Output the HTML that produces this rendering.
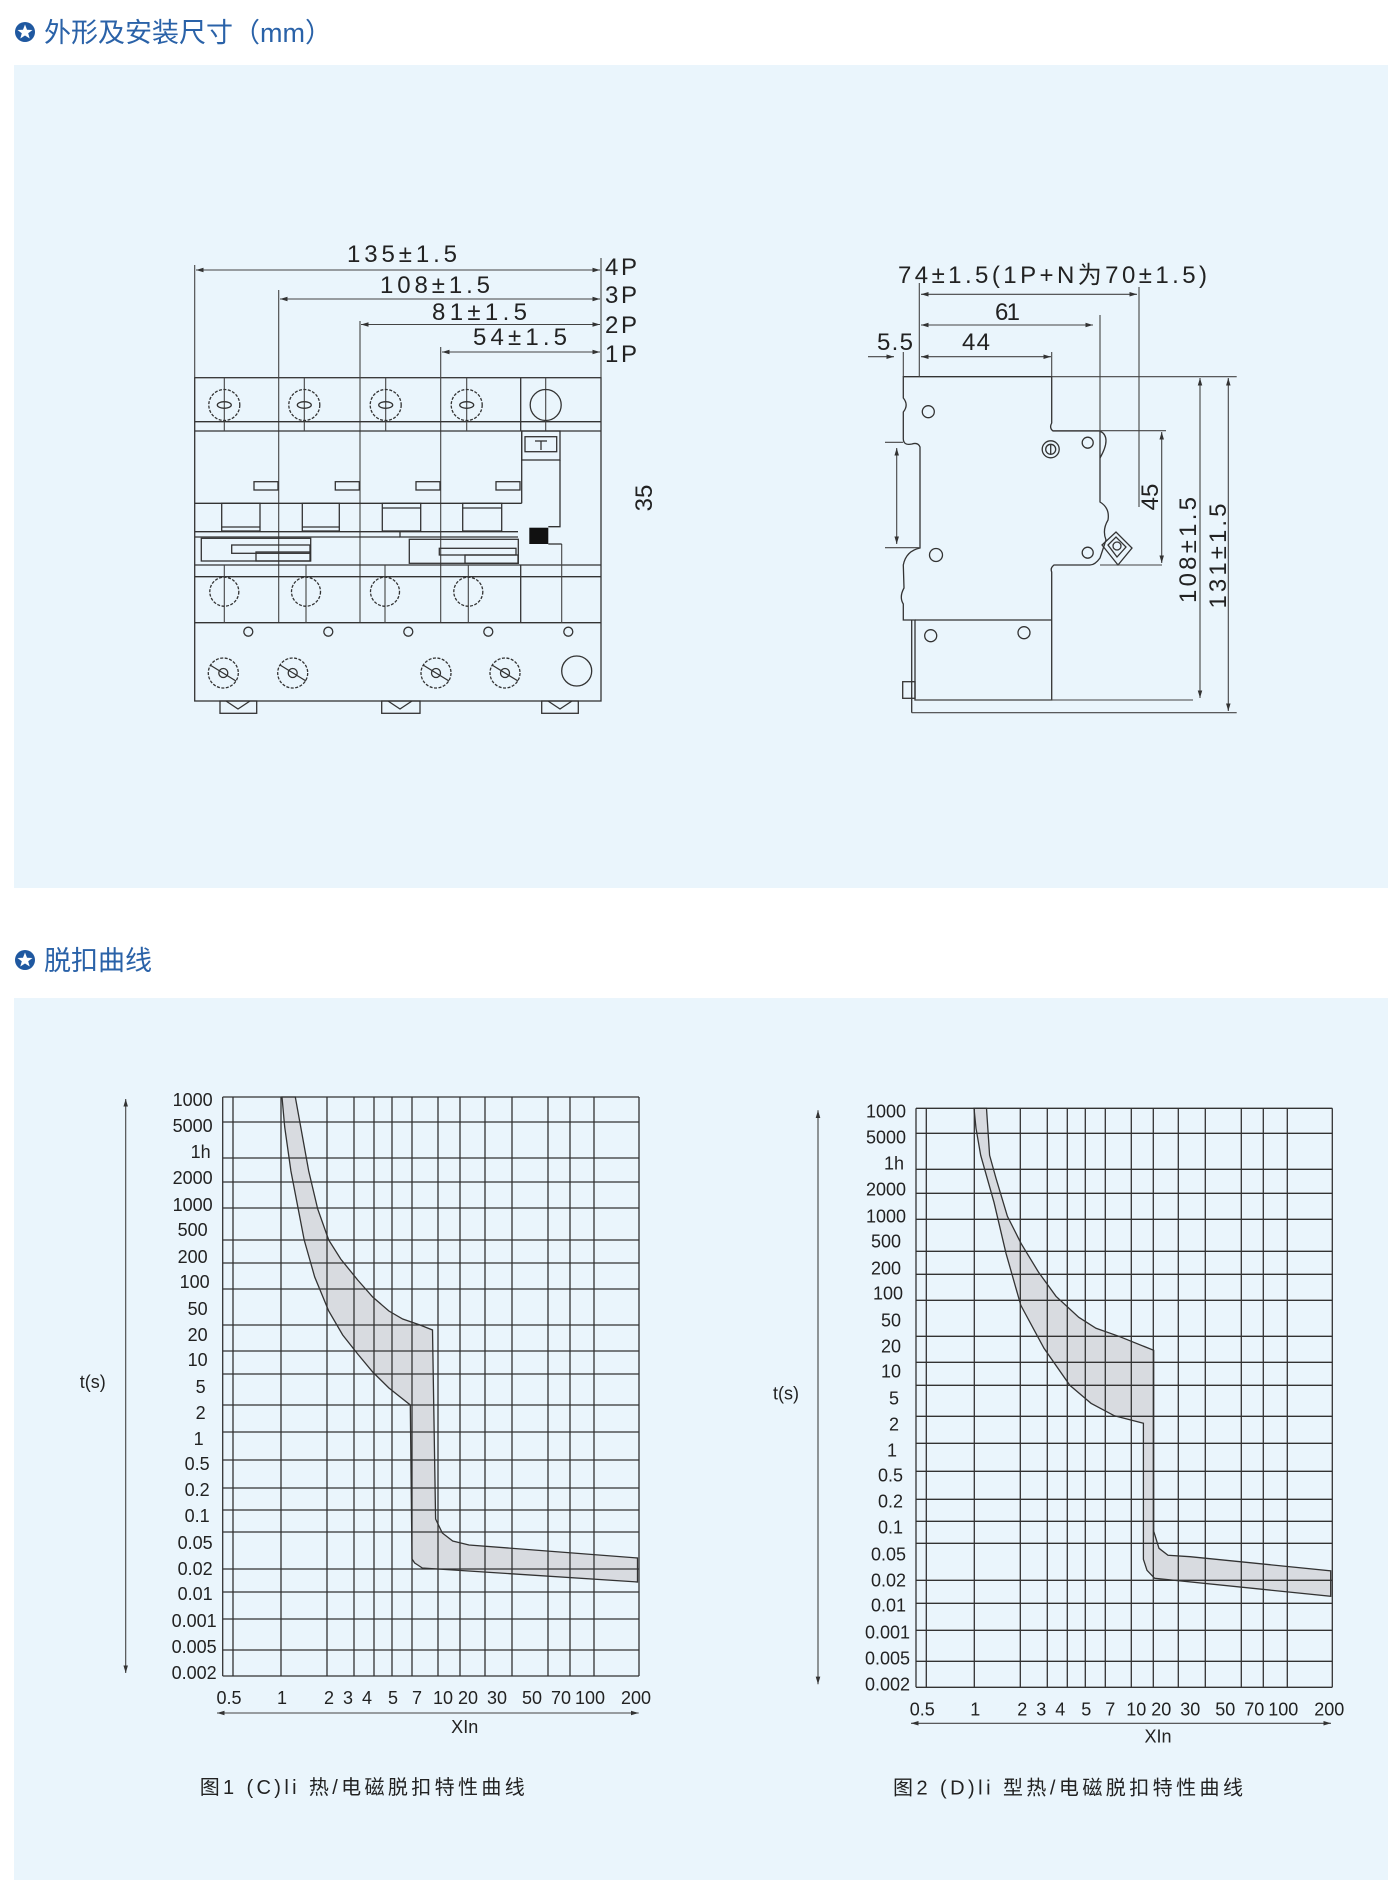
<!DOCTYPE html>
<html><head><meta charset="utf-8">
<style>
html,body{margin:0;padding:0;background:#fff;}
svg{display:block;}
text{font-family:"Liberation Sans","Noto Sans CJK SC",sans-serif;fill:#222;}
.t{font-family:"Liberation Sans","Noto Sans CJK SC",sans-serif;fill:#2a62a8;font-size:27px;}
.ln{stroke:#333;stroke-width:1.3;fill:none;}
.lt{stroke:#444;stroke-width:1.1;fill:none;}
.dim{font-size:24px;}
.yl{font-size:18px;text-anchor:end;}
.xl{font-size:18px;text-anchor:middle;}
</style></head>
<body>
<svg width="1400" height="1893" viewBox="0 0 1400 1893" xmlns="http://www.w3.org/2000/svg">
<defs>
<marker id="ar" viewBox="0 0 10 10" refX="10" refY="5" markerWidth="7" markerHeight="7" orient="auto-start-reverse"><path d="M0,2 L10,5 L0,8 z" fill="#333"/></marker>
</defs>
<!-- Section 1 -->
<circle cx="25" cy="32" r="10" fill="#1f58a0"/>
<polygon points="25,24.5 27,29.8 32.5,30 28.2,33.3 29.7,38.5 25,35.5 20.3,38.5 21.8,33.3 17.5,30 23,29.8" fill="#fff"/>
<text class="t" x="44" y="42">外形及安装尺寸（mm）</text>
<rect x="14" y="65" width="1374" height="823" fill="#eaf5fc"/>

<!-- Front view -->
<g>
<rect x="194.7" y="377.7" width="406.3" height="323.3" fill="#efefef" class="ln"/>
<!-- dims -->
<line class="lt" x1="194.7" y1="265" x2="194.7" y2="377.7"/>
<line class="lt" x1="601" y1="258" x2="601" y2="377.7"/>
<line class="lt" x1="196" y1="270" x2="600" y2="270" marker-start="url(#ar)" marker-end="url(#ar)"/>
<line class="lt" x1="278.7" y1="290" x2="278.7" y2="622.7"/>
<line class="lt" x1="280" y1="299" x2="600" y2="299" marker-start="url(#ar)" marker-end="url(#ar)"/>
<line class="lt" x1="360" y1="321" x2="360" y2="622.7"/>
<line class="lt" x1="361" y1="324.5" x2="600" y2="324.5" marker-start="url(#ar)" marker-end="url(#ar)"/>
<line class="lt" x1="440.7" y1="347" x2="440.7" y2="622.7"/>
<line class="lt" x1="442" y1="352" x2="600" y2="352" marker-start="url(#ar)" marker-end="url(#ar)"/>
<text class="dim" x="347" y="262" textLength="110">135±1.5</text>
<text class="dim" x="380" y="293" textLength="110">108±1.5</text>
<text class="dim" x="432" y="320" textLength="95">81±1.5</text>
<text class="dim" x="473" y="345" textLength="94">54±1.5</text>
<text class="dim" x="605" y="275" textLength="32">4P</text>
<text class="dim" x="605" y="303" textLength="32">3P</text>
<text class="dim" x="605" y="333" textLength="32">2P</text>
<text class="dim" x="605" y="362" textLength="32">1P</text>
<text class="dim" transform="translate(652,498) rotate(-90)" text-anchor="middle" font-size="24">35</text>
<!-- horizontal bands -->
<line class="ln" x1="194.7" y1="421.7" x2="601" y2="421.7"/>
<line class="ln" x1="194.7" y1="431" x2="601" y2="431"/>
<line class="ln" x1="194.7" y1="503.3" x2="521.7" y2="503.3"/>
<line class="ln" x1="194.7" y1="531.7" x2="518" y2="531.7"/>
<line class="ln" x1="194.7" y1="565" x2="601" y2="565"/>
<line class="ln" x1="194.7" y1="576.7" x2="601" y2="576.7"/>
<line class="ln" x1="194.7" y1="622.7" x2="601" y2="622.7"/>
<line class="ln" x1="520.7" y1="377.7" x2="520.7" y2="431"/>
<line class="ln" x1="521.7" y1="431" x2="521.7" y2="503.3"/>
<line class="ln" x1="520.7" y1="565" x2="520.7" y2="622.7"/>
<!-- terminal center lines top -->
<g class="lt">
<line x1="224.3" y1="377.7" x2="224.3" y2="431"/><line x1="304.3" y1="377.7" x2="304.3" y2="431"/>
<line x1="385.7" y1="377.7" x2="385.7" y2="431"/><line x1="466.7" y1="377.7" x2="466.7" y2="431"/>
<line x1="545.7" y1="377.7" x2="545.7" y2="431"/>
<line x1="224.3" y1="565" x2="224.3" y2="622.7"/><line x1="306" y1="565" x2="306" y2="622.7"/>
<line x1="385" y1="565" x2="385" y2="622.7"/><line x1="468.3" y1="565" x2="468.3" y2="622.7"/>
<line x1="561.7" y1="544" x2="561.7" y2="622.7"/>
</g>
<g class="ln" fill="none">
<circle cx="224.3" cy="405" r="15.5" stroke-dasharray="3 1.5"/><circle cx="304.3" cy="405" r="15.5" stroke-dasharray="3 1.5"/>
<circle cx="385.7" cy="405" r="15.5" stroke-dasharray="3 1.5"/><circle cx="466.7" cy="405" r="15.5" stroke-dasharray="3 1.5"/>
<circle cx="545.7" cy="405" r="15.5"/>
<ellipse cx="224.3" cy="405" rx="7" ry="3.3"/><ellipse cx="304.3" cy="405" rx="7" ry="3.3"/>
<ellipse cx="385.7" cy="405" rx="7" ry="3.3"/><ellipse cx="466.7" cy="405" rx="7" ry="3.3"/>
<circle cx="224.3" cy="591.7" r="14.5" stroke-dasharray="3 1.5"/><circle cx="306" cy="591.7" r="14.5" stroke-dasharray="3 1.5"/>
<circle cx="385" cy="591.7" r="14.5" stroke-dasharray="3 1.5"/><circle cx="468.3" cy="591.7" r="14.5" stroke-dasharray="3 1.5"/>
<circle cx="248.3" cy="631.7" r="4.5"/><circle cx="328.3" cy="631.7" r="4.5"/><circle cx="408.3" cy="631.7" r="4.5"/>
<circle cx="488.3" cy="631.7" r="4.5"/><circle cx="568.3" cy="631.7" r="4.5"/>
<circle cx="223.3" cy="673" r="15" stroke-dasharray="3 1.5"/><circle cx="292.7" cy="673" r="15" stroke-dasharray="3 1.5"/>
<circle cx="436" cy="673" r="15" stroke-dasharray="3 1.5"/><circle cx="505" cy="673" r="15" stroke-dasharray="3 1.5"/>
<circle cx="576.7" cy="671" r="15"/>
<circle cx="223.3" cy="673" r="4.5"/><circle cx="292.7" cy="673" r="4.5"/><circle cx="436" cy="673" r="4.5"/><circle cx="505" cy="673" r="4.5"/>
<line x1="210" y1="665" x2="236" y2="681"/><line x1="280" y1="665" x2="306" y2="681"/><line x1="423" y1="665" x2="449" y2="681"/><line x1="492" y1="665" x2="518" y2="681"/>
</g>
<!-- handles -->
<g class="ln" fill="#efefef">
<rect x="254" y="481.7" width="24" height="8.3"/><rect x="335.3" y="481.7" width="24" height="8.3"/>
<rect x="416" y="481.7" width="24" height="8.3"/><rect x="496" y="481.7" width="24" height="8.3"/>
<rect x="221.7" y="503.3" width="38.3" height="27.7"/><rect x="302.3" y="503.3" width="37" height="27.7"/>
<rect x="382.3" y="503.3" width="38.4" height="27.7"/><rect x="462.7" y="503.3" width="39" height="27.7"/>
<line x1="221.7" y1="527" x2="260" y2="527"/><line x1="302.3" y1="527" x2="339.3" y2="527"/>
<line x1="382.3" y1="508" x2="420.7" y2="508"/><line x1="462.7" y1="508" x2="501.7" y2="508"/>
<rect x="521.7" y="431" width="38.3" height="29"/><rect x="525" y="436.7" width="31.7" height="15"/>
<line x1="535" y1="441" x2="547" y2="441"/><line x1="541" y1="441" x2="541" y2="450"/>
<polyline points="560,460 560,526.7 548.3,526.7" fill="none"/>
<polyline points="548.3,544 561.7,544" fill="none"/>
<rect x="201.3" y="538.3" width="109.4" height="22.7"/>
<rect x="231.7" y="545" width="78.3" height="8.3"/>
<rect x="256" y="552" width="54" height="9"/>
<line x1="194.7" y1="537" x2="400" y2="537"/>
<polyline points="400,531.7 400,537 518,537" fill="none"/>
<rect x="409.3" y="539.3" width="109" height="24"/>
<rect x="439.3" y="548.3" width="76.7" height="6.7"/>
<rect x="465" y="555" width="53" height="8.3"/>
</g>
<rect x="529.3" y="527.7" width="19" height="16.3" fill="#111"/>
<!-- feet -->
<g class="ln" fill="#efefef">
<rect x="220" y="701" width="36.7" height="12.3"/><rect x="381.7" y="701" width="38.3" height="12.3"/><rect x="541.7" y="701" width="36.6" height="12.3"/>
<polyline points="226,701 238,709 250,701" fill="none"/><polyline points="388,701 400,709 412,701" fill="none"/><polyline points="548,701 560,709 572,701" fill="none"/>
</g>
</g>

<!-- Side view -->
<g>
<path class="ln" fill="#efefef" d="M903.3,376.7 L1051.7,376.7 L1051.7,423 Q1049,428 1053,431 L1100,431 L1100,502 Q1110,508 1108,520 Q1102,530 1106,540 L1100,558 Q1095,565 1090,565 L1054,565 Q1050,568 1051.7,572 L1051.7,700 L915,700 L915,620 L903.3,620 L903.3,604 Q899,597 904,588 L903.3,565 Q906,551 920,548 L920,447 Q918,442 912,444 Q903,446 903.3,438 L903.3,412 Q909,405 903.3,398 Z"/>
<line class="ln" x1="915" y1="620" x2="1052" y2="620"/>
<line class="ln" x1="911.7" y1="620" x2="911.7" y2="712.7"/>
<rect class="ln" x="902.7" y="681.7" width="12.3" height="16.6" fill="#efefef"/>
<line class="lt" x1="1051.7" y1="376.7" x2="1236.7" y2="376.7"/>
<line class="lt" x1="915" y1="700" x2="1193" y2="700"/>
<line class="lt" x1="911.7" y1="712.7" x2="1236.7" y2="712.7"/>
<g class="ln" fill="none">
<circle cx="928.3" cy="411.7" r="6"/><circle cx="936" cy="555" r="6.5"/><circle cx="1087.7" cy="442.7" r="5.5"/>
<circle cx="1087.7" cy="552.7" r="5.5"/><circle cx="1050.7" cy="449.3" r="8.5"/><circle cx="1050.7" cy="449.3" r="5"/>
<line x1="1050.7" y1="445" x2="1050.7" y2="454"/>
<circle cx="930.7" cy="635.7" r="6"/><circle cx="1024" cy="632.7" r="6"/>
<path d="M1100,431 Q1112,437 1100,458"/>
<path d="M1102,545 L1116,532 L1132,548 L1118,565 Z"/><path d="M1108,545 L1116,537 L1126,547 L1117,557 Z"/><circle cx="1117" cy="546" r="4"/>
</g>
<!-- side dims -->
<g class="lt">
<line x1="919.3" y1="283" x2="919.3" y2="376.7"/>
<line x1="1139" y1="287" x2="1139" y2="507"/>
<line x1="921" y1="294.3" x2="1137" y2="294.3" marker-start="url(#ar)" marker-end="url(#ar)"/>
<line x1="1100" y1="315" x2="1100" y2="431"/>
<line x1="921" y1="325" x2="1093" y2="325" marker-start="url(#ar)" marker-end="url(#ar)"/>
<line x1="1051.7" y1="352" x2="1051.7" y2="376.7"/>
<line x1="921" y1="356.7" x2="1051" y2="356.7" marker-start="url(#ar)" marker-end="url(#ar)"/>
<line x1="903.3" y1="352" x2="903.3" y2="376.7"/>
<line x1="868" y1="356.7" x2="894" y2="356.7" marker-end="url(#ar)"/>
<line x1="885" y1="442.3" x2="903" y2="442.3"/><line x1="885" y1="547.7" x2="920" y2="547.7"/>
<line x1="896.7" y1="448" x2="896.7" y2="544" marker-start="url(#ar)" marker-end="url(#ar)"/>
<line x1="1053" y1="430.7" x2="1166" y2="430.7"/><line x1="1100" y1="565" x2="1162" y2="565"/>
<line x1="1161.7" y1="432" x2="1161.7" y2="563" marker-start="url(#ar)" marker-end="url(#ar)"/>
<line x1="1200" y1="378" x2="1200" y2="698" marker-start="url(#ar)" marker-end="url(#ar)"/>
<line x1="1228.3" y1="378" x2="1228.3" y2="711" marker-start="url(#ar)" marker-end="url(#ar)"/>
</g>
<text class="dim" x="898" y="283" textLength="309">74±1.5(1P+N为70±1.5)</text>
<text class="dim" x="995" y="320" textLength="25">61</text>
<text class="dim" x="962" y="350" textLength="28">44</text>
<text class="dim" x="877" y="350" textLength="36">5.5</text>
<text class="dim" transform="translate(1158,497) rotate(-90)" text-anchor="middle">45</text>
<text class="dim" transform="translate(1196,550) rotate(-90)" text-anchor="middle" textLength="106">108±1.5</text>
<text class="dim" transform="translate(1226,556) rotate(-90)" text-anchor="middle" textLength="105">131±1.5</text>
</g>

<!-- Section 2 -->
<circle cx="25" cy="960" r="10" fill="#1f58a0"/>
<polygon points="25,952.5 27,957.8 32.5,958 28.2,961.3 29.7,966.5 25,963.5 20.3,966.5 21.8,961.3 17.5,958 23,957.8" fill="#fff"/>
<text class="t" x="44" y="970">脱扣曲线</text>
<rect x="14" y="998" width="1374" height="882" fill="#eaf5fc"/>

<!-- Chart 1 -->
<g transform="translate(222.7,1097)">
<polygon points="59.3,0 62,30 68.2,74 81.5,143 92,180 106,214 120,238 135,257 150,275 166.2,291 187.6,308 189.3,462 192,466 195.1,468 199.6,471 414.8,485 414.8,461 246.3,448 230,444 219.6,436 212.9,422 209.8,233 197.3,228 180,222 166.2,214 150,200 135,183 118,162 106,143 95,112 86,74 72.6,0" fill="#d8dbe0" stroke="#333" stroke-width="1.3"/>
<g class="ln">
<line x1="0" y1="0" x2="416.3" y2="0"/><line x1="0" y1="25" x2="416.3" y2="25"/><line x1="0" y1="61" x2="416.3" y2="61"/>
<line x1="0" y1="85" x2="416.3" y2="85"/><line x1="0" y1="111" x2="416.3" y2="111"/><line x1="0" y1="143" x2="416.3" y2="143"/>
<line x1="0" y1="166" x2="416.3" y2="166"/><line x1="0" y1="192" x2="416.3" y2="192"/><line x1="0" y1="228" x2="416.3" y2="228"/>
<line x1="0" y1="254" x2="416.3" y2="254"/><line x1="0" y1="277" x2="416.3" y2="277"/><line x1="0" y1="308" x2="416.3" y2="308"/>
<line x1="0" y1="335" x2="416.3" y2="335"/><line x1="0" y1="363" x2="416.3" y2="363"/><line x1="0" y1="391" x2="416.3" y2="391"/>
<line x1="0" y1="413" x2="416.3" y2="413"/><line x1="0" y1="435" x2="416.3" y2="435"/><line x1="0" y1="472" x2="416.3" y2="472"/>
<line x1="0" y1="495" x2="416.3" y2="495"/><line x1="0" y1="522" x2="416.3" y2="522"/><line x1="0" y1="553" x2="416.3" y2="553"/>
<line x1="0" y1="579" x2="416.3" y2="579"/>
<line x1="0" y1="0" x2="0" y2="579"/><line x1="10.3" y1="0" x2="10.3" y2="579"/><line x1="58.3" y1="0" x2="58.3" y2="579"/>
<line x1="104.3" y1="0" x2="104.3" y2="579"/><line x1="131.3" y1="0" x2="131.3" y2="579"/><line x1="151.3" y1="0" x2="151.3" y2="579"/>
<line x1="169.3" y1="0" x2="169.3" y2="579"/><line x1="189.3" y1="0" x2="189.3" y2="579"/><line x1="215.3" y1="0" x2="215.3" y2="579"/>
<line x1="237.3" y1="0" x2="237.3" y2="579"/><line x1="262.3" y1="0" x2="262.3" y2="579"/><line x1="289.3" y1="0" x2="289.3" y2="579"/>
<line x1="325.3" y1="0" x2="325.3" y2="579"/><line x1="347.3" y1="0" x2="347.3" y2="579"/><line x1="371.3" y1="0" x2="371.3" y2="579"/>
<line x1="416.3" y1="0" x2="416.3" y2="579"/>
</g>
<g class="yl">
<text x="-10" y="9">1000</text><text x="-10" y="35">5000</text><text x="-12" y="61">1h</text><text x="-10" y="87">2000</text>
<text x="-10" y="114">1000</text><text x="-15" y="139">500</text><text x="-15" y="166">200</text><text x="-13" y="191">100</text>
<text x="-15" y="218">50</text><text x="-15" y="244">20</text><text x="-15" y="269">10</text><text x="-17" y="296">5</text>
<text x="-17" y="322">2</text><text x="-19" y="348">1</text><text x="-13" y="373">0.5</text><text x="-13" y="399">0.2</text>
<text x="-13" y="425">0.1</text><text x="-10" y="452">0.05</text><text x="-10" y="478">0.02</text><text x="-10" y="503">0.01</text>
<text x="-6" y="530">0.001</text><text x="-6" y="556">0.005</text><text x="-6" y="582">0.002</text>
</g>
<g class="xl">
<text x="6.3" y="607">0.5</text><text x="59.3" y="607">1</text><text x="106.3" y="607">2</text><text x="125.3" y="607">3</text>
<text x="144.3" y="607">4</text><text x="170.3" y="607">5</text><text x="194.3" y="607">7</text><text x="220.3" y="607">10</text>
<text x="245.3" y="607">20</text><text x="274.3" y="607">30</text><text x="309.3" y="607">50</text><text x="338.3" y="607">70</text>
<text x="367.3" y="607">100</text><text x="413.3" y="607">200</text>
</g>
<text x="-130" y="291" font-size="18" text-anchor="middle">t(s)</text>
<line class="lt" x1="-97" y1="2" x2="-97" y2="576" marker-start="url(#ar)" marker-end="url(#ar)"/>
<line class="lt" x1="-5.7" y1="616" x2="416" y2="616" marker-start="url(#ar)" marker-end="url(#ar)"/>
<text x="242" y="636" font-size="18" text-anchor="middle">XIn</text>
<text x="-23" y="697" font-size="20" textLength="325">图1 (C)li 热/电磁脱扣特性曲线</text>
</g>

<!-- Chart 2 -->
<g transform="translate(916,1108.3)">
<polygon points="58,0 60,20 64.7,47 78,94 90,145 104.8,197 128,240 153.8,277 175,295 198.4,307.5 227.4,315 227.4,451 231,462 238.6,470 414.7,488 414.7,462.5 274,448.4 252,447 243,440 237.7,423 237.7,242 202.9,228 180,220 162.8,209 140,188 122.6,164 105,135 91.4,108 80,70 73.6,47 70.5,0" fill="#d8dbe0" stroke="#333" stroke-width="1.3"/>
<g class="ln">
<line x1="0" y1="0" x2="416.3" y2="0"/><line x1="0" y1="25" x2="416.3" y2="25"/><line x1="0" y1="61" x2="416.3" y2="61"/>
<line x1="0" y1="85" x2="416.3" y2="85"/><line x1="0" y1="111" x2="416.3" y2="111"/><line x1="0" y1="143" x2="416.3" y2="143"/>
<line x1="0" y1="166" x2="416.3" y2="166"/><line x1="0" y1="192" x2="416.3" y2="192"/><line x1="0" y1="228" x2="416.3" y2="228"/>
<line x1="0" y1="254" x2="416.3" y2="254"/><line x1="0" y1="277" x2="416.3" y2="277"/><line x1="0" y1="308" x2="416.3" y2="308"/>
<line x1="0" y1="335" x2="416.3" y2="335"/><line x1="0" y1="363" x2="416.3" y2="363"/><line x1="0" y1="391" x2="416.3" y2="391"/>
<line x1="0" y1="413" x2="416.3" y2="413"/><line x1="0" y1="435" x2="416.3" y2="435"/><line x1="0" y1="472" x2="416.3" y2="472"/>
<line x1="0" y1="495" x2="416.3" y2="495"/><line x1="0" y1="522" x2="416.3" y2="522"/><line x1="0" y1="553" x2="416.3" y2="553"/>
<line x1="0" y1="579" x2="416.3" y2="579"/>
<line x1="0" y1="0" x2="0" y2="579"/><line x1="10.3" y1="0" x2="10.3" y2="579"/><line x1="58.3" y1="0" x2="58.3" y2="579"/>
<line x1="104.3" y1="0" x2="104.3" y2="579"/><line x1="131.3" y1="0" x2="131.3" y2="579"/><line x1="151.3" y1="0" x2="151.3" y2="579"/>
<line x1="169.3" y1="0" x2="169.3" y2="579"/><line x1="189.3" y1="0" x2="189.3" y2="579"/><line x1="215.3" y1="0" x2="215.3" y2="579"/>
<line x1="237.3" y1="0" x2="237.3" y2="579"/><line x1="262.3" y1="0" x2="262.3" y2="579"/><line x1="289.3" y1="0" x2="289.3" y2="579"/>
<line x1="325.3" y1="0" x2="325.3" y2="579"/><line x1="347.3" y1="0" x2="347.3" y2="579"/><line x1="371.3" y1="0" x2="371.3" y2="579"/>
<line x1="416.3" y1="0" x2="416.3" y2="579"/>
</g>
<g class="yl">
<text x="-10" y="9">1000</text><text x="-10" y="35">5000</text><text x="-12" y="61">1h</text><text x="-10" y="87">2000</text>
<text x="-10" y="114">1000</text><text x="-15" y="139">500</text><text x="-15" y="166">200</text><text x="-13" y="191">100</text>
<text x="-15" y="218">50</text><text x="-15" y="244">20</text><text x="-15" y="269">10</text><text x="-17" y="296">5</text>
<text x="-17" y="322">2</text><text x="-19" y="348">1</text><text x="-13" y="373">0.5</text><text x="-13" y="399">0.2</text>
<text x="-13" y="425">0.1</text><text x="-10" y="452">0.05</text><text x="-10" y="478">0.02</text><text x="-10" y="503">0.01</text>
<text x="-6" y="530">0.001</text><text x="-6" y="556">0.005</text><text x="-6" y="582">0.002</text>
</g>
<g class="xl">
<text x="6.3" y="607">0.5</text><text x="59.3" y="607">1</text><text x="106.3" y="607">2</text><text x="125.3" y="607">3</text>
<text x="144.3" y="607">4</text><text x="170.3" y="607">5</text><text x="194.3" y="607">7</text><text x="220.3" y="607">10</text>
<text x="245.3" y="607">20</text><text x="274.3" y="607">30</text><text x="309.3" y="607">50</text><text x="338.3" y="607">70</text>
<text x="367.3" y="607">100</text><text x="413.3" y="607">200</text>
</g>
<text x="-130" y="291" font-size="18" text-anchor="middle">t(s)</text>
<line class="lt" x1="-98" y1="2" x2="-98" y2="576" marker-start="url(#ar)" marker-end="url(#ar)"/>
<line class="lt" x1="-5" y1="615" x2="415" y2="615" marker-start="url(#ar)" marker-end="url(#ar)"/>
<text x="242" y="634" font-size="18" text-anchor="middle">XIn</text>
<text x="-23" y="686" font-size="20" textLength="350">图2 (D)li 型热/电磁脱扣特性曲线</text>
</g>
</svg>
</body></html>
